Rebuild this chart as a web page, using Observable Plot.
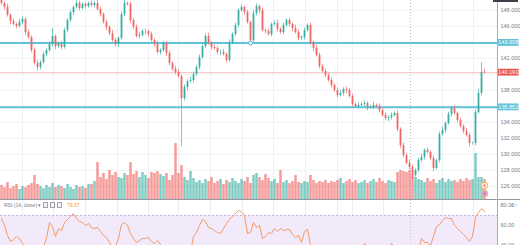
<!DOCTYPE html>
<html><head><meta charset="utf-8">
<script src="https://cdn.jsdelivr.net/npm/d3@7"></script>
<script src="https://cdn.jsdelivr.net/npm/@observablehq/plot@0.6"></script>
<style>
html,body{margin:0;padding:0;background:#fff;}
#wrap{position:relative;width:520px;height:245px;overflow:hidden;font-family:"Liberation Sans",Arial,sans-serif;background:#fff;}
.layer{position:absolute;left:0;}
.layer svg{display:block;}
#rsiHead{position:absolute;left:4px;top:202px;font-size:5px;color:#787b86;white-space:nowrap;display:flex;align-items:center;gap:1.5px;z-index:5;}
#rsiHead .bx{display:inline-block;width:3.5px;height:3.5px;border:0.6px solid #a0a3ab;border-radius:0.6px;background:#f4f4f6;}
#rsiHead .val{color:#ff9800;margin-left:3px;}
</style></head><body><div id="wrap"></div>
<script>
// ---- data ----
const firstOpen = 149.2;
const closes = [
148.84,148.34,147.34,146.59,146.21,145.96,146.46,146.84,145.21,144.59,
142.96,141.34,140.84,141.46,142.46,142.96,143.71,144.71,143.46,143.71,
143.34,145.46,146.71,147.71,148.34,148.84,148.21,148.71,148.46,148.84,
148.59,148.84,148.09,147.46,146.46,145.84,145.09,144.21,143.71,144.46,
147.46,148.84,148.71,146.71,145.84,144.71,144.84,145.34,145.34,144.96,
144.21,143.71,142.71,142.96,143.84,142.59,141.34,140.59,140.21,139.71,
136.96,138.34,139.09,139.21,139.96,140.84,142.09,143.46,144.71,143.84,
143.34,143.21,142.71,142.71,142.46,141.71,143.96,144.96,146.09,147.96,
148.34,147.71,146.46,144.21,147.59,148.46,147.96,145.46,145.34,144.96,
146.21,146.34,145.59,145.21,146.09,146.71,146.21,145.71,145.21,144.46,
144.59,145.46,146.09,143.96,143.21,142.34,140.96,140.34,139.84,139.21,
138.59,137.96,137.34,137.59,138.09,137.96,137.21,136.21,135.96,136.09,
136.21,136.34,135.84,135.84,136.09,135.96,135.46,134.84,134.46,134.59,
134.84,135.09,133.09,131.09,129.84,128.84,128.34,127.34,127.96,129.21,
129.59,130.46,130.21,129.46,128.21,129.21,132.46,132.96,133.84,134.96,
135.71,135.09,134.21,133.46,132.84,132.34,131.34,131.34,135.21,137.59,
140.21,140.191];
// wick lengths in tenths of a price unit
const wickUp = [
3,2,4,2,3,2,4,3,2,3, 2,3,4,2,3,2,3,10,2,3, 4,3,2,3,2,4,3,2,3,2, 3,2,4,3,2,3,2,4,3,2,
3,4,2,3,2,3,4,2,3,2, 3,2,4,2,3,2,3,2,4,3, 2,3,2,4,3,2,3,2,3,4, 2,3,2,3,4,2,3,2,3,2,
3,2,3,2,4,3,2,3,2,3, 2,3,4,2,3,2,3,2,4,3, 2,3,2,3,2,4,3,2,3,2, 3,2,3,4,2,3,2,3,2,3,
2,3,2,3,4,2,3,2,3,2, 3,2,3,2,3,2,4,3,2,3, 4,2,3,2,3,2,3,4,2,3, 2,3,2,3,2,4,3,2,3,5,
12,4];
const wickDn = [
2,3,2,4,2,3,2,3,4,2, 3,2,4,3,2,3,2,3,4,2, 3,2,3,2,4,2,3,2,3,2, 2,3,2,3,2,4,3,2,3,4,
2,3,2,4,3,2,3,2,4,3, 2,3,2,3,2,4,3,2,3,2, 60,3,4,2,3,2,3,2,3,2, 3,2,3,4,2,3,2,3,2,3,
2,3,2,3,2,3,4,2,3,2, 3,2,3,2,3,2,3,4,2,3, 2,3,2,3,4,2,3,2,3,2, 3,2,3,2,3,4,2,3,2,3,
2,3,4,2,3,2,3,2,3,4, 3,2,3,4,3,2,3,5,2,3, 2,3,2,3,4,2,3,2,3,2, 3,2,3,2,3,2,4,2,3,2,
3,2];
const volumes = [
14,12,17,11,13,15,10,13,12,14, 16,24,15,13,11,14,12,16,12,14, 13,11,15,12,10,14,12,13,11,15,
15,18,37,22,26,20,29,24,27,22, 21,26,24,37,25,28,22,27,24,21, 27,26,28,25,23,26,19,24,56,26,
34,22,19,28,21,17,19,16,20,18, 22,16,18,20,15,19,17,21,18,16, 20,18,22,16,24,26,22,19,25,21,
18,20,16,29,17,19,16,18,24,17, 16,18,17,24,19,16,18,17,19,16, 18,17,19,21,16,18,20,17,19,16,
17,19,16,18,20,17,21,18,16,19, 18,17,27,29,28,27,29,24,22,20, 19,17,21,18,20,16,19,21,17,20,
18,19,17,20,18,21,19,20,46,22, 22,20];
const rsi = [
67,60,50,44,46,49,47,42,37,33, 30,27,28,33,39,47,63,59,49,57, 55,63,66,69,72,67,64,63,60,62,
58,57,58,54,50,48,43,38,39,47, 61,63,60,52,47,43,45,47,47,48, 44,42,45,41,38,35,31,29,27,25,
17,23,27,33,49,53,60,66,64,58, 57,55,53,52,57,62,66,69,72,75, 74,70,52,53,63,58,60,47,49,53,
52,57,54,57,55,56,56,51,48,50, 43,54,56,40,35,31,27,25,24,23, 22,21,20,29,33,32,29,25,27,33,
37,42,37,36,39,38,35,31,29,35, 42,39,27,20,17,15,15,13,23,35, 47,43,43,40,49,59,61,65,68,67,
67,60,57,54,51,48,44,49,68,73, 77,74];
const priceTicks = [148,146,142,138,134,132,130,128,126];
const priceGrid = [126,128,130,132,134,136,138,140,142,144,146,148];
const hLines = [143.908, 135.852];
const lastPrice = 140.191;
const rsiTicks = [80,60,40];
const rsiBand = [30,70];
const rsiValueText = "79.37";
const timeGrid = [7,17.33,28,38.67,49,59,69.67,80.33,90.67,101.33,112,117,127.33,147,157.33];
const sessionBreak = 136.3;
const handle = [{i:83, p:143.908}];
const events = [{i:161, v:14, fill:"#fde6d2", dot:"#ef5350"}, {i:161, v:6, fill:"#c9a8e8", dot:"#ef5350"}];

// ---- styling ----
const UP = "#3aaea3", DN = "#f06664";
const VUP = "rgba(38,166,154,0.58)", VDN = "rgba(239,83,80,0.58)";
const W = 520, MR = 23;
const xDomain = [-1/3, 496/3];
const axisStyle = {anchor:"right", tickSize:0, tickPadding:3, fontSize:5.5, fill:"#787b86"};

const candles = closes.map((c, i) => {
  const o = i ? closes[i-1] : firstOpen;
  return {i, o, c, h: Math.max(o, c) + wickUp[i]/10, l: Math.min(o, c) - wickDn[i]/10,
          v: volumes[i], up: c >= o, r: rsi[i]};
});

const wrap = document.getElementById("wrap");
function layer(node, top, z) {
  const d = document.createElement("div");
  d.className = "layer"; d.style.top = top + "px"; d.style.zIndex = z;
  d.appendChild(node); wrap.appendChild(d); return d;
}

// price pane
const price = Plot.plot({
  width: W, height: 200, marginTop: 0, marginBottom: 0, marginLeft: 0, marginRight: MR,
  style: {background: "transparent", fontFamily: "Liberation Sans, Arial, sans-serif"},
  x: {domain: xDomain, axis: null},
  y: {domain: [124.21, 149.21], axis: null},
  marks: [
    Plot.ruleX(timeGrid, {stroke: "#eef0f4"}),
    Plot.ruleY(priceGrid, {stroke: "#f0f1f5"}),
    Plot.ruleX([sessionBreak], {stroke: "#b8bbc4", strokeDasharray: "1,2"}),
    Plot.ruleY([lastPrice], {stroke: "#f6c2c0", strokeWidth: 1}),
    Plot.ruleY(hLines, {stroke: "#5ec2d8", strokeWidth: 2}),
    Plot.ruleX(candles, {x: "i", y1: "l", y2: "h", stroke: d => d.up ? UP : DN, strokeWidth: 0.7}),
    Plot.ruleX(candles, {x: "i", y1: "o", y2: "c", stroke: d => d.up ? UP : DN, strokeWidth: 1.8}),
    Plot.dot(handle, {x: "i", y: "p", r: 2, stroke: "#3fa7d6", strokeWidth: 0.9, fill: "#fff"}),
    Plot.axisY(priceTicks, {...axisStyle, tickFormat: d3.format(".3f")})
  ]
});
layer(price, 0, 1);

// price labels on axis
(function(){
  const sc = price.scale("y");
  const yf = sc.apply ? (v => sc.apply(v)) : d3.scaleLinear(sc.domain, sc.range);
  const svg = d3.select(price);
  const lab = [{v: hLines[0], bg: "#5ec2d8"}, {v: hLines[1], bg: "#5ec2d8"}, {v: lastPrice, bg: "#ef5350"}];
  const g = svg.append("g");
  lab.forEach(d => {
    const y = yf(d.v);
    g.append("rect").attr("x", 498).attr("y", y - 3.4).attr("width", 20.5).attr("height", 6.8).attr("fill", d.bg);
    g.append("text").attr("x", 508.3).attr("y", y).attr("text-anchor", "middle").attr("dy", "0.35em")
      .attr("font-size", 5.5).attr("fill", "#fff").text(d3.format(".3f")(d.v));
  });
})();

// volume overlay
const vol = Plot.plot({
  width: W, height: 70, marginTop: 0, marginBottom: 1, marginLeft: 0, marginRight: MR,
  style: {background: "transparent"},
  x: {domain: xDomain, axis: null},
  y: {domain: [0, 69], axis: null},
  marks: [
    Plot.ruleX(candles, {x: "i", y1: 0, y2: "v", stroke: d => d.up ? VUP : VDN, strokeWidth: 2.5}),
    Plot.dot(events, {x: "i", y: "v", r: 3.3, stroke: "#f5b25a", strokeWidth: 0.9, fill: d => d.fill}),
    Plot.dot(events, {x: "i", y: "v", r: 0.9, fill: d => d.dot})
  ]
});
layer(vol, 130, 2);

// RSI pane
const rsiPlot = Plot.plot({
  width: W, height: 45, marginTop: 0, marginBottom: 0, marginLeft: 0, marginRight: MR,
  style: {background: "#fff", fontFamily: "Liberation Sans, Arial, sans-serif", overflow: "hidden"},
  x: {domain: xDomain, axis: null},
  y: {domain: [40, 85], axis: null},
  marks: [
    Plot.rect([rsiBand], {x1: () => xDomain[0], x2: () => xDomain[1], y1: d => d[0], y2: d => d[1],
      fill: "rgba(150,80,220,0.12)", clip: true}),
    Plot.ruleX(timeGrid, {stroke: "#eceaf2"}),
    Plot.ruleX([sessionBreak], {stroke: "#b8bbc4", strokeDasharray: "1,2"}),
    Plot.ruleY([rsiBand[1]], {stroke: "#b9a6d6", strokeDasharray: "2,2", strokeWidth: 0.8}),
    Plot.line(candles, {x: "i", y: "r", stroke: "#f39a66", strokeWidth: 1, clip: true}),
    Plot.axisY(rsiTicks, {...axisStyle, tickFormat: d3.format(".2f")})
  ]
});
layer(rsiPlot, 200, 1);

// separators
const sep = document.createElement("div");
sep.style.cssText = "position:absolute;left:0;top:199px;width:520px;height:1px;background:#9598a1;z-index:4;";
wrap.appendChild(sep);
const vsep = document.createElement("div");
vsep.style.cssText = "position:absolute;left:497px;top:0;width:1px;height:245px;background:#a9acb5;z-index:4;";
wrap.appendChild(vsep);
const topBox = document.createElement("div");
topBox.style.cssText = "position:absolute;left:493px;top:0;width:25px;height:2px;background:#3c3f48;z-index:4;";
wrap.appendChild(topBox);

// RSI header
const head = document.createElement("div");
head.id = "rsiHead";
head.innerHTML = 'RSI (14, close) ▾ <span class="bx"></span><span class="bx"></span><span class="bx"></span><span class="val">' + rsiValueText + '</span>';
wrap.appendChild(head);
</script>
</body></html>
